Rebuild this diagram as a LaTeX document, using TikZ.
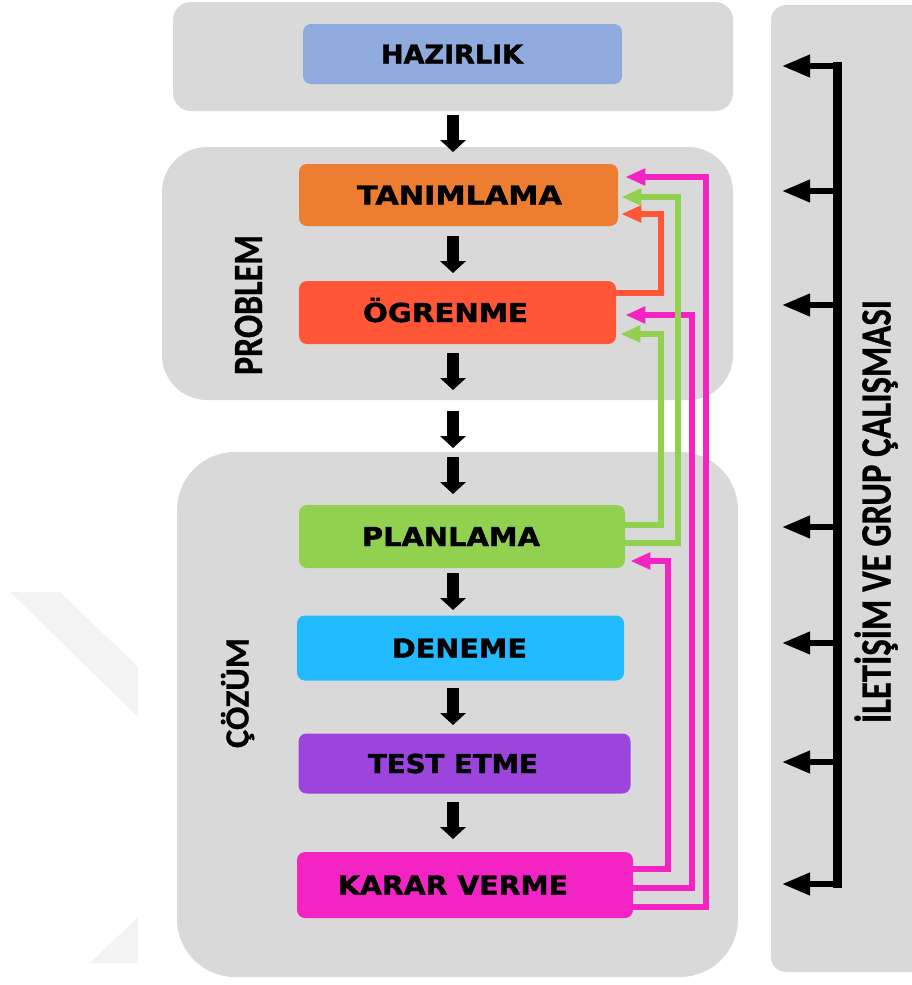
\documentclass[tikz,border=0pt]{standalone}
\usepackage{fontspec}
\setmainfont{DejaVu Sans}
\newfontfamily\boxfont{DejaVu Sans}
\newfontfamily\labelfont{Carlito}
\usetikzlibrary{arrows.meta,calc}

% one unit = one pixel of the 912 x 985 drawing
\newlength\px \setlength\px{0.75pt}
\newlength\fitlen
\newlength\fitcap
% scale a text so that it is #1 px wide and its capitals are #2 px high
\newcommand\fitxy[3]{%
  \settowidth\fitlen{#3}\settoheight\fitcap{H}%
  \pgfmathsetmacro\fitsx{#1*0.75pt/\fitlen}%
  \pgfmathsetmacro\fitsy{#2*0.75pt/\fitcap}%
  \scalebox{\fitsx}[\fitsy]{#3}}
% invisible strut that pushes the text to the left by half of #1 px
\newcommand\padr[1]{\rule{#1\px}{0pt}}

\definecolor{panelgray}{HTML}{D9D9D9}
\definecolor{wm}{HTML}{F3F3F3}
\definecolor{cHaz}{HTML}{8FAADC}
\definecolor{cTan}{HTML}{ED7D31}
\definecolor{cOgr}{HTML}{FF5638}
\definecolor{cPla}{HTML}{92D050}
\definecolor{cDen}{HTML}{22BBFF}
\definecolor{cTes}{HTML}{9B45DD}
\definecolor{cKar}{HTML}{F424C4}

\tikzset{
  stagebox/.style={rounded corners=8\px, inner sep=0pt,
    font=\boxfont\bfseries\addfontfeatures{FakeBold=1.5}\fontsize{20}{20}\selectfont,
    text height=14.25pt, text depth=0pt},
  sidelabel/.style={inner sep=0pt, rotate=90, text depth=0pt,
    font=\labelfont\bfseries\addfontfeatures{FakeBold=0.8}\fontsize{30}{30}\selectfont},
  downarr/.style={line width=9pt, -{Triangle[length=9pt,width=19pt]}},
  sidearr/.style={line width=4.5pt, -{Triangle[length=21pt,width=16pt]}},
  spine/.style={line width=6.75pt},
  loopback/.style={line width=4.2pt, -{Triangle[length=15pt,width=12pt]}},
}

\begin{document}
\begin{tikzpicture}[x=0.75pt,y=-0.75pt]
\useasboundingbox (0,0) rectangle (912,985);
\fill[white] (0,0) rectangle (912,985);

% faint background mark
\fill[wm] (10,592) -- (60,592) -- (138,667) -- (138,717) -- cycle;
\fill[wm] (90,963) -- (138,917) -- (138,963) -- cycle;

% grey group panels
\fill[panelgray, rounded corners=18\px] (173,2) rectangle (733,111);
\fill[panelgray, rounded corners=45\px] (162,147) rectangle (733,400);
\fill[panelgray, rounded corners=58\px] (177,452) rectangle (738,977);
\fill[panelgray, rounded corners=15\px] (771,5) rectangle (940,972);

% stages
\node[stagebox, fill=cHaz, minimum width=319\px, minimum height=60\px] (haz) at (462.5,54)
  {\fitxy{142}{19}{HAZIRLIK}\padr{21}};
\node[stagebox, fill=cTan, minimum width=319\px, minimum height=62\px] (tan) at (458.5,195)
  {\padr{2}\fitxy{205}{19}{TANIMLAMA}};
\node[stagebox, fill=cOgr, minimum width=317\px, minimum height=63\px] (ogr) at (457.5,312.5)
  {\fitxy{165}{19}{ÖGRENME}\padr{24}};
\node[stagebox, fill=cPla, minimum width=326\px, minimum height=63\px] (pla) at (462,536.5)
  {\fitxy{178}{19}{PLANLAMA}\padr{22}};
\node[stagebox, fill=cDen, minimum width=327\px, minimum height=65\px] (den) at (460.5,648)
  {\fitxy{135}{19}{DENEME}\padr{2}};
\node[stagebox, fill=cTes, minimum width=332\px, minimum height=60\px] (tes) at (464.5,763.5)
  {\fitxy{170}{19}{TEST ETME}\padr{23}};
\node[stagebox, fill=cKar, minimum width=336\px, minimum height=66\px] (kar) at (465,885)
  {\fitxy{230}{19}{KARAR VERME}\padr{24}};

% group labels
\node[sidelabel, text height=20.25pt] (prob) at (248.5,305)
  {\fitxy{140}{27}{PROBLEM}};
\node[sidelabel, text height=16.5pt] (coz) at (237.5,693)
  {\fitxy{110}{22}{ÇÖZÜM}};
\node[sidelabel, text height=21pt] (ilet) at (876.5,511.5)
  {\fitxy{423}{28}{İLETİŞİM VE GRUP ÇALIŞMASI}};

% downward flow arrows
\foreach \y [count=\i] in {115,236,353,411,457,573,688,802}{
  \coordinate (dtop\i) at (453,\y);
  \coordinate (dtip\i) at (453,\y+37);
  \draw[downarr] (dtop\i) -- (dtip\i);
}

% communication spine with its arrows
\coordinate (spTop) at (837,62);
\coordinate (spBot) at (837,888);
\draw[spine] (spTop) -- (spBot);
\foreach \y [count=\i] in {66,191,305,527,643,762,884}{
  \coordinate (sp\i) at (837,\y);
  \coordinate (tip\i) at (782,\y);
  \draw[sidearr] (sp\i) -- (tip\i);
}

% feedback loops
\draw[loopback, draw=cKar] ($(kar.east)+(0,-16)$) -- ++(35,0) |- ($(pla.east)+(5,24.5)$);
\draw[loopback, draw=cKar] ($(kar.east)+(0,3)$) -- ++(59,0) |- ($(ogr.east)+(9,2.5)$);
\draw[loopback, draw=cKar] ($(kar.east)+(0,22)$) -- ++(73,0) |- ($(tan.east)+(7,-18)$);
\draw[loopback, draw=cPla] ($(pla.east)+(0,-11.5)$) -- ++(36,0) |- ($(ogr.east)+(4,21.5)$);
\draw[loopback, draw=cPla] ($(pla.east)+(0,6.5)$) -- ++(53,0) |- ($(tan.east)+(3,2)$);
\draw[loopback, draw=cOgr] ($(ogr.east)+(0,-19.5)$) -- ++(45,0) |- ($(tan.east)+(3,19)$);
\end{tikzpicture}
\end{document}
